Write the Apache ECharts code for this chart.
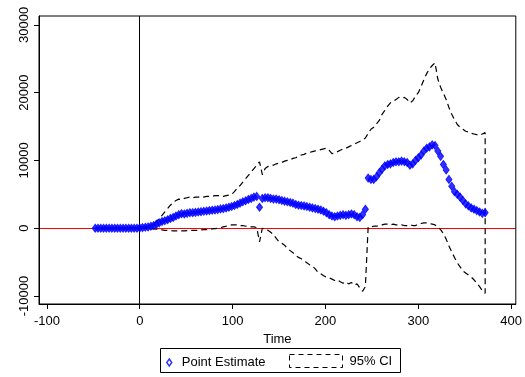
<!DOCTYPE html>
<html>
<head>
<meta charset="utf-8">
<script src="https://cdn.jsdelivr.net/npm/echarts@6/dist/echarts.min.js"></script>
<style>
  html, body { margin: 0; padding: 0; background: #fff; }
  #chart { width: 525px; height: 377px; }
</style>
</head>
<body>
<div id="chart"></div>
<script>
// time points (x axis)
const times = [
  -48, -45, -42, -39, -36, -33, -30, -27, -24, -21,
  -18, -15, -12, -9, -6, -3,
  0, 3, 6, 9, 12, 15, 18, 21, 24, 27,
  30, 33, 36, 39, 42, 45, 48, 51, 54, 57,
  60, 63, 66, 69, 72, 75, 78, 81, 84, 87,
  90, 93, 96, 99, 102, 105, 108, 111, 114, 117,
  120, 123, 126, 129, 132, 135, 138, 141, 144, 147,
  150, 153, 156, 159, 162, 165, 168, 171, 174, 177,
  180, 183, 186, 189, 192, 195, 198, 201, 204, 207,
  210, 213, 216, 219, 222, 225, 228, 231, 234, 237,
  240, 243, 246, 249, 252, 255, 258, 261, 264, 267,
  270, 273, 276, 279, 282, 285, 288, 291, 294, 297,
  300, 303, 306, 309, 312, 315, 318, 321, 324, 327,
  330, 333, 336, 339, 342, 345, 348, 351, 354, 357,
  360, 363, 366, 369, 372
];

// point estimate
const estimate = [
  0, 0, 0, 0, 0, 0, 0, 0, 0, 0,
  0, 0, 0, 0, 0, 0,
  50, 100, 150, 200, 300, 400, 600, 800, 1000, 1100,
  1250, 1450, 1600, 1800, 2000, 2150, 2100, 2200, 2300, 2300,
  2350, 2400, 2450, 2500, 2550, 2600, 2650, 2700, 2750, 2850,
  2900, 3000, 3100, 3200, 3350, 3500, 3700, 3900, 4050, 4250,
  4400, 4600, 4700, 3100, 4400, 4500, 4500, 4400, 4300, 4300,
  4200, 4100, 4000, 3900, 3800, 3700, 3500, 3400, 3350, 3300,
  3200, 3100, 3000, 2900, 2800, 2700, 2500, 2300, 2000, 1800,
  1700, 1800, 1900, 2000, 1900, 2000, 2100, 2000, 1700, 1600,
  2000, 2800, 7400, 7200, 7200, 7600, 8200, 8700, 9200, 9400,
  9500, 9700, 9800, 9800, 9900, 9800, 9700, 9300, 9500, 10000,
  10400, 10800, 11400, 11800, 12000, 12300, 12200, 11400, 10600, 9400,
  8600, 7200, 6200, 5400, 5000, 4600, 4100, 3600, 3300, 3000,
  2800, 2600, 2400, 2200, 2300
];

// upper bound of 95% CI
const ciUpper = [
  0, 0, 0, 0, 0, 0, 0, 0, 0, 0,
  0, 0, 0, 0, 0, 0,
  50, 100, 150, 300, 500, 700, 1000, 1400, 1900, 2400,
  2900, 3400, 3800, 4100, 4300, 4200, 4400, 4500, 4600, 4500,
  4600, 4600, 4700, 4600, 4700, 4700, 4700, 4800, 4800, 4800,
  4700, 4800, 4900, 5000, 5400, 5900, 6300, 6800, 7300, 7800,
  8300, 8800, 9300, 9800, 7900, 8800, 9100, 9200, 9300, 9500,
  9600, 9700, 9900, 10000, 10100, 10300, 10400, 10600, 10800, 10900,
  11100, 11200, 11300, 11400, 11500, 11600, 11700, 11800, 11500, 11000,
  11100, 11300, 11500, 11700, 11800, 12000, 12200, 12400, 12600, 12800,
  13000, 13300, 14000, 14600, 14900, 15400, 15900, 16800, 17400, 18000,
  18500, 18700, 19000, 19300, 19200, 19300, 19000, 18500, 18800, 19500,
  20000, 20900, 21900, 22800, 23500, 24000, 24400, 22000, 20800, 19900,
  19000, 17800, 16800, 16000, 15300, 14900, 14600, 14300, 14200, 14000,
  13900, 13800, 13700, 13900, 14100
];

// lower bound of 95% CI
const ciLower = [
  0, 0, 0, 0, 0, 0, 0, 0, 0, 0,
  0, 0, 0, 0, 0, 0,
  0, 0, 0, -50, -100, -100, -150, -200, -250, -300,
  -300, -350, -400, -400, -400, -400, -400, -350, -350, -300,
  -300, -300, -250, -200, -200, -150, -100, -50, 0, 100,
  200, 300, 400, 500, 500, 500, 400, 400, 300, 300,
  200, 200, 100, -2000, 0, -100, -300, -600, -900, -1500,
  -2000, -2200, -2500, -3000, -3300, -3600, -4000, -4300, -4500, -4800,
  -5100, -5400, -5600, -6000, -6500, -6700, -7000, -7200, -7300, -7500,
  -7700, -7600, -7900, -8100, -7900, -8200, -8000, -8400, -8200, -8800,
  -9300, -8600, 200, 200, 300, 300, 400, 500, 600, 600,
  500, 600, 500, 500, 500, 400, 400, 500, 400, 400,
  600, 700, 800, 800, 700, 600, 500, 200, -200, -800,
  -1600, -2600, -3500, -4300, -5100, -5700, -6300, -6600, -6900, -7200,
  -7600, -8100, -8600, -9200, -9600
];

const xTicks = [-100, 0, 100, 200, 300, 400];
const yTicks = [-10000, 0, 10000, 20000, 30000];
const zeroLine = [0];

const font = 'Liberation Sans, Arial, Helvetica, sans-serif';

// CI drawn as one path: upper forward, lower back
const ciData = times.map((t, i) => [t, ciUpper[i]])
  .concat(times.map((t, i) => [t, ciLower[i]]).reverse());
const estData = times.map((t, i) => [t, estimate[i]]);

const yMin = -11170;
const yMax = 31300;

const chart = echarts.init(document.getElementById('chart'), null, { renderer: 'canvas' });

chart.setOption({
  animation: false,
  backgroundColor: '#fff',
  textStyle: { fontFamily: font, color: '#000' },
  grid: {
    left: 39, right: 8, top: 16, bottom: 73,
    show: true, borderColor: '#000', borderWidth: 1, backgroundColor: 'transparent'
  },
  xAxis: {
    type: 'value',
    min: -108.5,
    max: 405,
    name: 'Time',
    nameLocation: 'middle',
    nameGap: 19,
    nameTextStyle: { fontSize: 13, color: '#000', fontFamily: font },
    axisLine: { show: true, onZero: false, lineStyle: { color: '#000', width: 1 } },
    axisTick: { show: true, length: 5, customValues: xTicks, lineStyle: { color: '#000' } },
    axisLabel: { customValues: xTicks, fontSize: 13, color: '#000', margin: 11, fontFamily: font },
    splitLine: { show: false }
  },
  yAxis: [
    {
      type: 'value',
      min: yMin,
      max: yMax,
      axisLine: { show: true, onZero: false, lineStyle: { color: '#000', width: 1 } },
      axisTick: { show: true, length: 5, customValues: yTicks, lineStyle: { color: '#000' } },
      axisLabel: {
        customValues: yTicks, rotate: 90, fontSize: 13, color: '#000', margin: 8, fontFamily: font,
        formatter: (v) => String(v)
      },
      splitLine: { show: false }
    },
    {
      // hidden axis used only to draw the red zero line beneath the data
      type: 'value',
      min: yMin,
      max: yMax,
      position: 'left',
      z: -1,
      axisLine: { show: false },
      axisTick: { show: false, customValues: zeroLine },
      axisLabel: { show: false, customValues: zeroLine },
      splitLine: { show: true, lineStyle: { color: '#ff0000', width: 1, type: 'solid' } }
    }
  ],
  legend: [
    {
      data: [{ name: 'Point Estimate', icon: 'diamond' }],
      left: 166, top: 356, padding: 0,
      itemWidth: 5, itemHeight: 7,
      itemStyle: { color: 'rgba(0,0,0,0)', borderColor: '#0000ff', borderWidth: 1.5 },
      textStyle: { fontSize: 13, color: '#000', fontFamily: font, padding: [0, 0, 0, 5] },
      selectedMode: false
    },
    {
      data: [{ name: '95% CI', icon: 'rect' }],
      left: 289, top: 354, padding: 0,
      itemWidth: 53, itemHeight: 13,
      itemStyle: { color: 'rgba(0,0,0,0)', borderColor: '#000', borderWidth: 1, borderType: [5, 4] },
      textStyle: { fontSize: 13, color: '#000', fontFamily: font, padding: [0, 0, 0, 2] },
      selectedMode: false
    }
  ],
  graphic: [{
    type: 'rect',
    shape: { x: 160.5, y: 348.5, width: 240, height: 24 },
    style: { fill: 'none', stroke: '#000', lineWidth: 1 },
    z: 10
  }],
  series: [
    {
      name: '95% CI',
      type: 'line',
      data: ciData,
      showSymbol: false,
      symbol: 'none',
      lineStyle: { color: '#000', width: 1.2, type: [6, 4] },
      itemStyle: { color: '#000' },
      z: 6
    },
    {
      name: 'Point Estimate',
      type: 'scatter',
      data: estData,
      symbol: 'diamond',
      symbolSize: [6, 8],
      itemStyle: { color: '#0000ff', borderColor: '#0000ff', borderWidth: 1 },
      z: 8
    },
    {
      // vertical line at time 0, on top
      name: 'vline',
      type: 'line',
      data: [],
      z: 12,
      markLine: {
        silent: true,
        symbol: 'none',
        label: { show: false },
        lineStyle: { color: '#000', width: 1, type: 'solid' },
        data: [{ xAxis: 0 }]
      }
    }
  ]
});
</script>
</body>
</html>
